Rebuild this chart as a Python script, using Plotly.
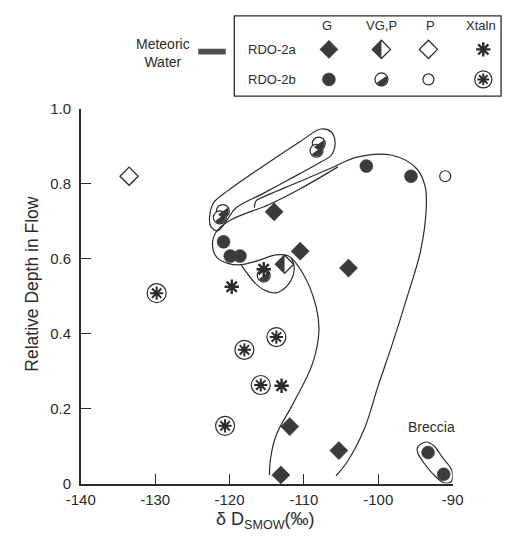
import math
import plotly.graph_objects as go

# ---------------- data ----------------
X_TICKS = [-140, -130, -120, -110, -100, -90]
X_TICK_TEXT = ["-140", "-130", "-120", "-110", "-100", "-90"]
Y_TICKS = [0, 0.2, 0.4, 0.6, 0.8, 1.0]
Y_TICK_TEXT = ["0", "0.2", "0.4", "0.6", "0.8", "1.0"]

# RDO-2a
g2a_x = [-114.0, -110.5, -104.0, -111.9, -105.3, -113.1]
g2a_y = [0.725, 0.620, 0.575, 0.152, 0.088, 0.023]
vgp2a_x = [-112.6]
vgp2a_y = [0.585]
p2a_x = [-133.5]
p2a_y = [0.820]
xt2a_x = [-115.4, -119.7, -113.0]
xt2a_y = [0.572, 0.525, 0.261]

# RDO-2b
g2b_x = [-101.6, -95.6, -120.8, -119.9, -118.6, -93.3, -91.2]
g2b_y = [0.847, 0.820, 0.645, 0.607, 0.607, 0.083, 0.025]
vgp2b_x = [-108.0, -108.3, -120.9, -121.3, -115.4]
vgp2b_y = [0.907, 0.888, 0.727, 0.710, 0.555]
p2b_x = [-91.0]
p2b_y = [0.820]
xt2b_x = [-129.8, -113.7, -118.0, -115.8, -120.6]
xt2b_y = [0.508, 0.391, 0.357, 0.263, 0.154]

# hand-drawn enclosing curves (data units)
curve_a_x = [-116.67, -116.41, -115.77, -110.54, -106.32, -102.87, -98.15, -94.83,
             -93.68, -93.56, -94.32, -96.10, -98.15, -100.06, -101.85, -104.15, -105.68]
curve_a_y = [0.736, 0.755, 0.762, 0.806, 0.842, 0.871, 0.876, 0.840,
             0.791, 0.731, 0.620, 0.499, 0.370, 0.258, 0.147, 0.059, 0.021]
curve_b_x = [-122.67, -122.16, -120.11, -115.39, -110.54, -107.73, -106.32, -105.81,
             -106.32, -107.73, -110.54, -115.39, -119.22, -120.50, -121.65, -122.54, -122.67]
curve_b_y = [0.713, 0.749, 0.783, 0.848, 0.912, 0.946, 0.938, 0.910,
             0.876, 0.858, 0.827, 0.775, 0.734, 0.698, 0.674, 0.687, 0.713]
curve_c_x = [-105.43, -110.54, -114.75, -119.86, -121.78, -122.29, -121.65, -120.11,
             -118.45, -116.28, -113.73, -112.07, -110.15, -108.37, -107.98, -108.88,
             -111.43, -113.73, -114.50, -114.63]
curve_c_y = [0.845, 0.786, 0.744, 0.703, 0.672, 0.638, 0.602, 0.587,
             0.584, 0.594, 0.610, 0.607, 0.561, 0.473, 0.406, 0.318,
             0.214, 0.129, 0.065, 0.023]
curve_d_x = [-118.45, -117.82, -116.67, -115.39, -113.73, -112.07, -111.30, -111.69]
curve_d_y = [0.584, 0.566, 0.537, 0.517, 0.509, 0.532, 0.574, 0.602]
curve_e_x = [-94.70, -93.56, -92.53, -91.38, -90.08, -90.21, -91.25, -92.66, -93.93, -94.70, -94.70]
curve_e_y = [0.098, 0.111, 0.101, 0.070, 0.034, 0.005, 0.003, 0.026, 0.057, 0.083, 0.098]

LEG_COLS = ["G", "VG,P", "P", "Xtaln"]
LEG_ROWS = ["RDO-2a", "RDO-2b"]

# ---------------- layout constants ----------------
W, H = 513, 541
X0_PX, X1_PX = 69.3, 461.0    # pixels of the x-axis ends
Y_BOT_PX, Y_TOP_PX = 490.0, 103.0
XR = [-140, -90]
YR = [0, 1.0]
PXX = (X1_PX - X0_PX) / (XR[1] - XR[0])
PXY = (Y_BOT_PX - Y_TOP_PX) / (YR[1] - YR[0])

INK = "#2b2b2b"
FILL = "#3b3b3b"
FONT = "Liberation Sans, Arial, sans-serif"


def half_disc(xs, ys, r, sx, sy, a0=215, a1=395):
    ox, oy = [], []
    for cx, cy in zip(xs, ys):
        for k in range(0, 19):
            t = math.radians(a0 + (a1 - a0) * k / 18)
            ox.append(cx + r * math.cos(t) / sx)
            oy.append(cy + r * math.sin(t) / sy)
        ox.append(None)
        oy.append(None)
    return ox, oy


def half_diamond(xs, ys, h, sx, sy):
    ox, oy = [], []
    for cx, cy in zip(xs, ys):
        ox += [cx - h / sx, cx, cx, cx - h / sx, None]
        oy += [cy, cy + h / sy, cy - h / sy, cy, None]
    return ox, oy


fig = go.Figure()


def add_markers(xs, ys, symbol, size, color, lcolor, lwidth, xa="x", ya="y"):
    fig.add_trace(go.Scatter(
        x=xs, y=ys, mode="markers", xaxis=xa, yaxis=ya, cliponaxis=False,
        marker=dict(symbol=symbol, size=size, color=color,
                    line=dict(color=lcolor, width=lwidth)),
        showlegend=False, hoverinfo="skip"))


def add_poly(px, py, xa="x", ya="y"):
    fig.add_trace(go.Scatter(
        x=px, y=py, mode="lines", fill="toself", fillcolor=FILL,
        line=dict(width=0, color=FILL), xaxis=xa, yaxis=ya,
        showlegend=False, hoverinfo="skip", cliponaxis=False))


# curves
for cx, cy in [(curve_a_x, curve_a_y), (curve_b_x, curve_b_y), (curve_c_x, curve_c_y),
               (curve_d_x, curve_d_y), (curve_e_x, curve_e_y)]:
    fig.add_trace(go.Scatter(
        x=cx, y=cy, mode="lines", line=dict(color=INK, width=1.2, shape="spline", smoothing=1.0),
        showlegend=False, hoverinfo="skip", cliponaxis=False))


def draw_set(sets, xa, ya, sx, sy, scale=1.0):
    (g2ax, g2ay, v2ax, v2ay, p2ax, p2ay, x2ax, x2ay,
     g2bx, g2by, v2bx, v2by, p2bx, p2by, x2bx, x2by) = sets
    add_markers(g2ax, g2ay, "diamond", 14, FILL, FILL, 0.5, xa, ya)
    add_markers(g2bx, g2by, "circle", 13, FILL, FILL, 0.5, xa, ya)
    add_markers(p2ax, p2ay, "diamond", 14, "white", INK, 1.3, xa, ya)
    add_markers(p2bx, p2by, "circle", 11, "white", INK, 1.2, xa, ya)
    add_markers(v2ax, v2ay, "diamond", 14, "white", INK, 1.3, xa, ya)
    px, py = half_diamond(v2ax, v2ay, 9.0, sx, sy)
    add_poly(px, py, xa, ya)
    add_markers(v2bx, v2by, "circle", 13, "white", INK, 1.2, xa, ya)
    px, py = half_disc(v2bx, v2by, 6.2, sx, sy)
    add_poly(px, py, xa, ya)
    add_markers(x2ax, x2ay, "asterisk-open", 12, INK, INK, 2.4, xa, ya)
    add_markers(x2bx, x2by, "circle", 19 * scale, "white", INK, 1.2, xa, ya)
    add_markers(x2bx, x2by, "asterisk-open", 11 * scale, INK, INK, 2.0, xa, ya)


draw_set((g2a_x, g2a_y, vgp2a_x, vgp2a_y, p2a_x, p2a_y, xt2a_x, xt2a_y,
          g2b_x, g2b_y, vgp2b_x, vgp2b_y, p2b_x, p2b_y, xt2b_x, xt2b_y),
         "x", "y", PXX, PXY)

# ---------------- legend (pixel overlay axes) ----------------
LEG_COL_X = [330.7, 386.0, 435.5, 493.3]
LEG_ROW_Y = [41.7, 72.7]
LEG_HEAD_Y = 17.0
r1, r2 = LEG_ROW_Y
c = LEG_COL_X
draw_set(([c[0]], [r1], [c[1]], [r1], [c[2]], [r1], [c[3]], [r1],
          [c[0]], [r2], [c[1]], [r2], [c[2]], [r2], [c[3]], [r2]),
         "x2", "y2", 1.0, -1.0, scale=0.9)

annotations = []
for name, x in zip(LEG_COLS, [329, 386.5, 437.5, 491]):
    annotations.append(dict(x=x, y=LEG_HEAD_Y, xref="x2", yref="y2", text=name, showarrow=False,
                            font=dict(size=13, color=INK, family=FONT)))
for name, y in zip(LEG_ROWS, LEG_ROW_Y):
    annotations.append(dict(x=271, y=y, xref="x2", yref="y2", text=name, showarrow=False,
                            font=dict(size=13, color=INK, family=FONT)))
annotations.append(dict(x=156, y=45.5, xref="x2", yref="y2", text="Meteoric<br>Water",
                        showarrow=False, align="center",
                        font=dict(size=14, color=INK, family=FONT)))
annotations.append(dict(x=-92.9, y=0.152, xref="x", yref="y", text="Breccia", showarrow=False,
                        font=dict(size=14, color=INK, family=FONT)))
annotations.append(dict(x=18.5, y=284, xref="x2", yref="y2", text="Relative Depth in Flow",
                        textangle=-90, showarrow=False,
                        font=dict(size=17.5, color=INK, family=FONT)))
annotations.append(dict(x=264, y=528, xref="x2", yref="y2", text="δ D<sub>SMOW</sub>(‰)",
                        showarrow=False, font=dict(size=18, color=INK, family=FONT)))

shapes = [
    dict(type="rect", xref="x2", yref="y2", x0=231, x1=512, y0=7, y1=90,
         line=dict(color=INK, width=1.3), fillcolor="rgba(0,0,0,0)", layer="below"),
    dict(type="rect", xref="x2", yref="y2", x0=193, x1=222, y0=41, y1=47,
         line=dict(width=0), fillcolor="#505050", layer="below"),
]

axis_common = dict(showgrid=False, zeroline=False, showline=True, linecolor=INK, linewidth=1.5,
                   ticks="inside", ticklen=10, tickwidth=1.3, tickcolor=INK,
                   tickfont=dict(size=15, color=INK, family=FONT), fixedrange=True)

fig.update_layout(
    width=W, height=H,
    margin=dict(l=0, r=0, t=0, b=0),
    paper_bgcolor="white", plot_bgcolor="rgba(0,0,0,0)",
    showlegend=False,
    xaxis=dict(domain=[X0_PX / W, X1_PX / W], range=XR, tickmode="array",
               tickvals=X_TICKS, ticktext=X_TICK_TEXT, anchor="y", ticklabelstandoff=2,
               **axis_common),
    yaxis=dict(domain=[(H - Y_BOT_PX) / H, (H - Y_TOP_PX) / H],
               range=YR, tickmode="array", tickvals=Y_TICKS, ticktext=Y_TICK_TEXT,
               anchor="x", ticklabelstandoff=5, **axis_common),
    xaxis2=dict(domain=[0, 1], range=[0, W], visible=False, anchor="y2", fixedrange=True),
    yaxis2=dict(domain=[0, 1], range=[H, 0], visible=False, anchor="x2", fixedrange=True),
    annotations=annotations,
    shapes=shapes,
)

fig.write_html("out.html")
